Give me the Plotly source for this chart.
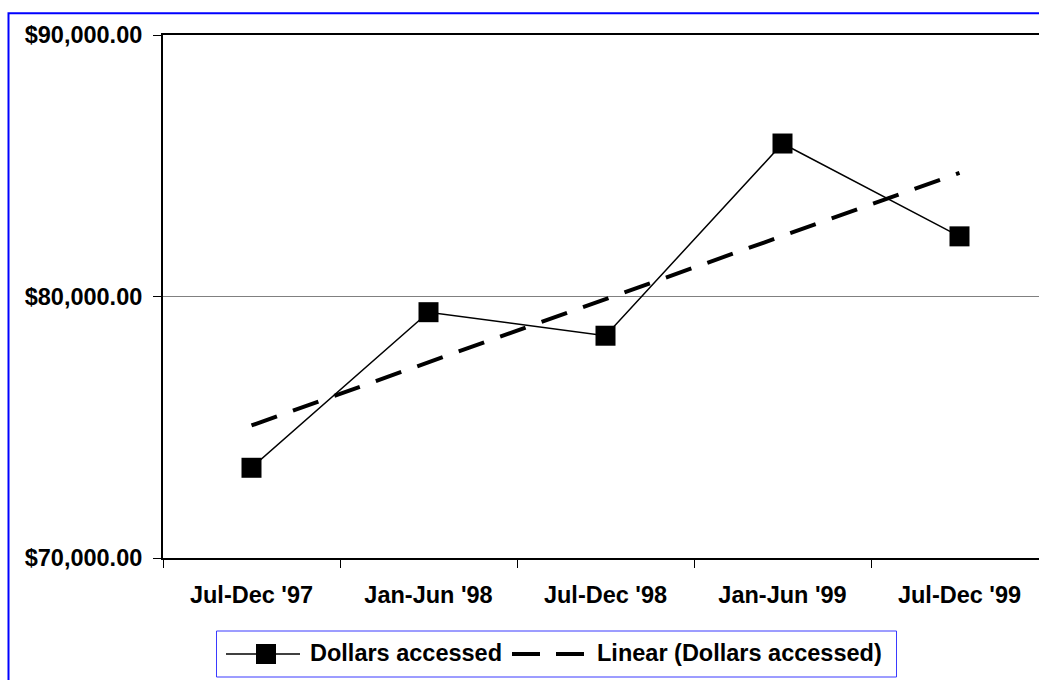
import numpy as np
import plotly.graph_objects as go

# Half-year periods and the dollar amounts accessed in each
periods = ["Jul-Dec '97", "Jan-Jun '98", "Jul-Dec '98", "Jan-Jun '99", "Jul-Dec '99"]
dollars = [73450, 79400, 78500, 85850, 82300]
y_ticks = [70000, 80000, 90000]
y_tick_text = [f"${v:,.2f}" for v in y_ticks]
series_names = ["Dollars accessed", "Linear (Dollars accessed)"]

# Least-squares linear trend over the period index
idx = np.arange(len(periods))
slope, intercept = np.polyfit(idx, dollars, 1)
trend = slope * idx + intercept

W, H = 1039, 680
ML, MR, MT, MB = 163, 0, 35, 122
plot_w = W - ML - MR
plot_h = H - MT - MB
cat_w = 177.0  # pixel width of one category slot

FONT = "Liberation Sans, Arial, sans-serif"
TRACE_DASH = "27px,17px"

fig = go.Figure()
fig.add_trace(go.Scatter(
    x=periods, y=dollars, name=series_names[0],
    mode="lines+markers",
    line=dict(color="black", width=1.5),
    marker=dict(symbol="square", size=20, color="black"),
))
fig.add_trace(go.Scatter(
    x=periods, y=trend, name=series_names[1],
    mode="lines",
    line=dict(color="black", width=4, dash=TRACE_DASH),
))


def px_x(px):
    return (px - ML) / plot_w


def px_y(py):
    return (H - MB - py) / plot_h


shapes = []
annotations = []

# Outer chart-area frame (runs past the right and bottom edges)
shapes.append(dict(type="rect", xref="paper", yref="paper",
                   x0=px_x(8.5), x1=px_x(1100), y0=px_y(13.3), y1=px_y(720),
                   line=dict(color="#0000ff", width=2),
                   fillcolor="rgba(0,0,0,0)", layer="above"))

# Legend box below the axis
leg_y = 654
shapes.append(dict(type="rect", xref="paper", yref="paper",
                   x0=px_x(216.5), x1=px_x(896.5), y0=px_y(631), y1=px_y(677),
                   line=dict(color="#3a3aff", width=1), fillcolor="white",
                   layer="above"))
# key 1: thin line with a square marker
shapes.append(dict(type="line", xref="paper", yref="paper",
                   x0=px_x(226), x1=px_x(300), y0=px_y(leg_y), y1=px_y(leg_y),
                   line=dict(color="black", width=1.5), layer="above"))
shapes.append(dict(type="rect", xref="paper", yref="paper",
                   x0=px_x(256), x1=px_x(276), y0=px_y(leg_y - 10), y1=px_y(leg_y + 10),
                   line=dict(color="black", width=0), fillcolor="black",
                   layer="above"))
# key 2: heavy dashed line
shapes.append(dict(type="line", xref="paper", yref="paper",
                   x0=px_x(512), x1=px_x(585), y0=px_y(leg_y), y1=px_y(leg_y),
                   line=dict(color="black", width=4, dash="28px,16px"),
                   layer="above"))
for label, x_left in zip(series_names, [308, 595]):
    annotations.append(dict(
        text=label, xref="paper", yref="paper",
        x=px_x(x_left), y=px_y(leg_y - 1), xanchor="left", yanchor="middle",
        showarrow=False,
        font=dict(family=FONT, size=23.5, color="black", weight="bold"),
    ))

fig.update_layout(
    width=W, height=H,
    margin=dict(l=ML, r=MR, t=MT, b=MB, pad=0),
    paper_bgcolor="white", plot_bgcolor="white",
    font=dict(family=FONT, size=23.5, color="black", weight="bold"),
    showlegend=False,
    shapes=shapes,
    annotations=annotations,
    xaxis=dict(
        type="category",
        range=[-0.5, -0.5 + plot_w / cat_w],
        showline=True, linecolor="black", linewidth=2, mirror=True,
        ticks="outside", ticklen=8, tickwidth=1, tickcolor="black",
        tickson="boundaries", showgrid=False, zeroline=False,
        ticklabelstandoff=15,
    ),
    yaxis=dict(
        range=[70000, 90000],
        tickmode="array", tickvals=y_ticks, ticktext=y_tick_text,
        showline=True, linecolor="black", linewidth=2, mirror=False,
        ticks="outside", ticklen=8, tickwidth=1, tickcolor="black",
        showgrid=True, gridcolor="#808080", gridwidth=1, zeroline=False,
        ticklabelstandoff=6,
    ),
)

fig.write_html("out.html")
